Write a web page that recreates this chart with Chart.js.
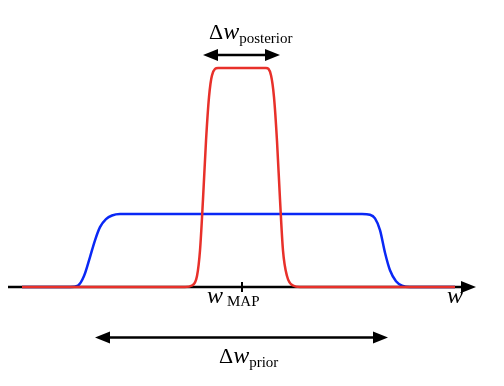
<!DOCTYPE html>
<html>
<head>
<meta charset="utf-8">
<script src="https://cdn.jsdelivr.net/npm/chart.js@4/dist/chart.umd.min.js"></script>
<style>
  html, body { margin: 0; padding: 0; background: #fff; }
  #wrap { width: 504px; height: 386px; }
</style>
</head>
<body>
<div id="wrap"><canvas id="chart"></canvas></div>
<script>
// prior (blue) and posterior (red) densities
const priorW = [22, 70, 78, 84, 90, 95, 100, 106, 112, 120, 130, 362, 370, 375, 380, 385, 390, 396, 402, 410, 455];
const priorP = [0, 0, 0.02, 0.15, 0.41, 0.64, 0.82, 0.93, 0.98, 1, 1, 1, 0.99, 0.94, 0.78, 0.47, 0.23, 0.08, 0.02, 0, 0];
const postW = [22, 185, 192, 197, 200, 203, 206, 209, 212, 218, 266, 271, 274, 277, 280, 283, 287, 293, 300, 455];
const postP = [0, 0, 0.02, 0.15, 0.5, 1.2, 2.0, 2.6, 2.9, 3.0, 3.0, 2.9, 2.6, 2.0, 1.2, 0.5, 0.15, 0.02, 0, 0];

// axis and labels
const axisRange = [8, 476];
const mapW = 242;
const postArrow = [203, 280, 3.18];
const priorArrow = [95, 388, -0.69];

const toPts = (xs, ys) => xs.map((x, i) => ({ x: x, y: ys[i] }));

function head(ctx, x, y, dir) {
  ctx.beginPath();
  ctx.moveTo(x, y);
  ctx.lineTo(x - dir * 15, y - 6);
  ctx.lineTo(x - dir * 15, y + 6);
  ctx.closePath();
  ctx.fill();
}

function drawDelta(ctx, x, y, sub) {
  ctx.font = '22px "Liberation Serif", serif';
  ctx.fillText('Δ', x, y);
  const wd = ctx.measureText('Δ').width;
  ctx.font = 'italic 24px "Liberation Serif", serif';
  ctx.fillText('w', x + wd, y);
  const ww = ctx.measureText('w').width;
  ctx.font = '15px "Liberation Serif", serif';
  ctx.fillText(sub, x + wd + ww, y + 4);
}

const overlay = {
  id: 'overlay',
  // axis goes between the blue and the red curve
  afterDatasetDraw(chart, args) {
    if (args.index !== 1) return;
    const ctx = chart.ctx;
    const px = v => chart.scales.x.getPixelForValue(v);
    const y0 = chart.scales.y.getPixelForValue(0);
    ctx.save();
    ctx.strokeStyle = '#000';
    ctx.fillStyle = '#000';
    ctx.lineWidth = 2.5;
    ctx.beginPath();
    ctx.moveTo(px(axisRange[0]), y0);
    ctx.lineTo(px(axisRange[1]) - 10, y0);
    ctx.stroke();
    head(ctx, px(axisRange[1]), y0, 1);
    ctx.lineWidth = 2;
    ctx.beginPath();
    ctx.moveTo(px(mapW), y0 - 5);
    ctx.lineTo(px(mapW), y0 + 5);
    ctx.stroke();
    ctx.restore();
  },
  afterDatasetsDraw(chart) {
    const ctx = chart.ctx;
    const px = v => chart.scales.x.getPixelForValue(v);
    const py = v => chart.scales.y.getPixelForValue(v);

    function dblArrow(x0, x1, y) {
      ctx.beginPath();
      ctx.moveTo(x0 + 8, y);
      ctx.lineTo(x1 - 8, y);
      ctx.stroke();
      head(ctx, x0, y, -1);
      head(ctx, x1, y, 1);
    }

    ctx.save();
    ctx.strokeStyle = '#000';
    ctx.fillStyle = '#000';
    ctx.lineWidth = 2.5;
    ctx.textAlign = 'left';
    ctx.textBaseline = 'alphabetic';

    dblArrow(px(postArrow[0]), px(postArrow[1]), py(postArrow[2]));
    dblArrow(px(priorArrow[0]), px(priorArrow[1]), py(priorArrow[2]));

    drawDelta(ctx, 209, 39, 'posterior');
    drawDelta(ctx, 219, 363, 'prior');

    ctx.font = 'italic 24px "Liberation Serif", serif';
    ctx.fillText('w', 207, 303);
    ctx.font = '15px "Liberation Serif", serif';
    ctx.fillText('MAP', 227, 306);
    ctx.font = 'italic 24px "Liberation Serif", serif';
    ctx.fillText('w', 447, 303);
    ctx.restore();
  }
};

new Chart(document.getElementById('chart'), {
  type: 'line',
  data: {
    datasets: [
      {
        label: 'posterior',
        data: toPts(postW, postP),
        borderColor: '#e8302a',
        borderWidth: 2.5,
        pointRadius: 0,
        fill: false,
        cubicInterpolationMode: 'monotone'
      },
      {
        label: 'prior',
        data: toPts(priorW, priorP),
        borderColor: '#0a28f5',
        borderWidth: 2.5,
        pointRadius: 0,
        fill: false,
        cubicInterpolationMode: 'monotone'
      }
    ]
  },
  options: {
    responsive: true,
    maintainAspectRatio: false,
    animation: false,
    layout: { padding: 0 },
    plugins: { legend: { display: false }, tooltip: { enabled: false } },
    scales: {
      x: { type: 'linear', min: 0, max: 504, display: false },
      y: { type: 'linear', min: -1.356, max: 3.932, display: false }
    }
  },
  plugins: [overlay]
});
</script>
</body>
</html>
